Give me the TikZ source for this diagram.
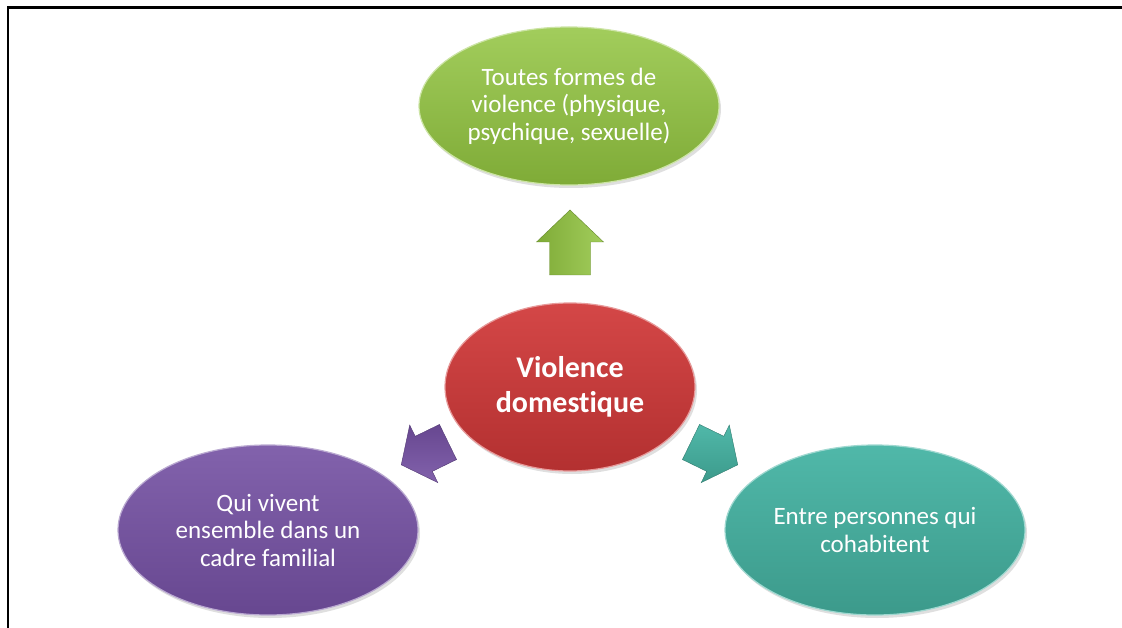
\documentclass[tikz,border=0pt]{standalone}
\usepackage{fontspec}
\setmainfont{Carlito}[Ligatures={NoCommon,NoRare}]
\usetikzlibrary{shapes.geometric,shadows}
\definecolor{gtop}{HTML}{A2CD5C}
\definecolor{gbot}{HTML}{7FAB37}
\definecolor{rtop}{HTML}{D44747}
\definecolor{rbot}{HTML}{B33030}
\definecolor{ptop}{HTML}{8262AC}
\definecolor{pbot}{HTML}{674790}
\definecolor{ttop}{HTML}{50B8A9}
\definecolor{tbot}{HTML}{3C9A8B}
\tikzset{
  bubble/.style={ellipse, text=white, align=center, inner sep=0pt,
    font=\fontsize{25}{27.5}\selectfont,
    drop shadow={opacity=0.25, shadow xshift=2pt, shadow yshift=-3pt}},
  blockarrow/.pic={
    \path[pic actions] (0,-\pgfkeysvalueof{/tikz/aw}) -- (\pgfkeysvalueof{/tikz/as},-\pgfkeysvalueof{/tikz/aw})
      -- (\pgfkeysvalueof{/tikz/as},-\pgfkeysvalueof{/tikz/ah}) -- (\pgfkeysvalueof{/tikz/al},0)
      -- (\pgfkeysvalueof{/tikz/as},\pgfkeysvalueof{/tikz/ah}) -- (\pgfkeysvalueof{/tikz/as},\pgfkeysvalueof{/tikz/aw})
      -- (0,\pgfkeysvalueof{/tikz/aw}) -- cycle;
  },
  aw/.initial=20, as/.initial=33, ah/.initial=33, al/.initial=65,
}
\begin{document}
\begin{tikzpicture}[x=1pt,y=-1pt]
\useasboundingbox (0,0) rectangle (1122,628);
\fill[white] (0,0) rectangle (1122,628);
\draw[line width=2.2pt, line cap=rect] (8,628) -- (8,7.5) -- (1122,7.5);

% arrows
\pic[shift={(570,275)}, rotate=90, aw=20.5, as=33, ah=33.5, al=65,
     left color=gbot, right color=gtop, draw=gbot!80!black, line width=0.4pt,
     drop shadow={opacity=0.2, shadow xshift=1pt, shadow yshift=-3pt}] (upa) {blockarrow};
\pic[shift={(691,442)}, rotate=-26, aw=19.5, as=27, ah=32, al=52,
     top color=ttop, bottom color=tbot, draw=tbot!80!black, line width=0.4pt,
     drop shadow={opacity=0.2, shadow xshift=1pt, shadow yshift=-3pt}] (ra) {blockarrow};
\pic[shift={(448,442)}, rotate=206, aw=19.5, as=27, ah=32, al=52,
     top color=pbot, bottom color=ptop, draw=pbot!80!black, line width=0.4pt,
     drop shadow={opacity=0.2, shadow xshift=1pt, shadow yshift=-3pt}] (la) {blockarrow};

% ellipses
\node[bubble, minimum width=300, minimum height=158, top color=gtop, bottom color=gbot,
      draw=gtop!55!white, line width=1.2pt] (top) at (569,106)
  {Toutes formes de\\violence (physique,\\psychique, sexuelle)};
\node[bubble, minimum width=300, minimum height=170, top color=ptop, bottom color=pbot,
      draw=ptop!55!white, line width=1.2pt] (left) at (268,530)
  {Qui vivent\\ensemble dans un\\cadre familial};
\node[bubble, minimum width=300, minimum height=170, top color=ttop, bottom color=tbot,
      draw=ttop!55!white, line width=1.2pt] (right) at (875,530)
  {Entre personnes qui\\cohabitent};
\node[bubble, minimum width=250, minimum height=168, top color=rtop, bottom color=rbot,
      draw=rtop!55!white, line width=1.2pt, font=\fontsize{30}{35}\selectfont\bfseries] (center) at (570,387)
  {Violence\\domestique};
\end{tikzpicture}
\end{document}
